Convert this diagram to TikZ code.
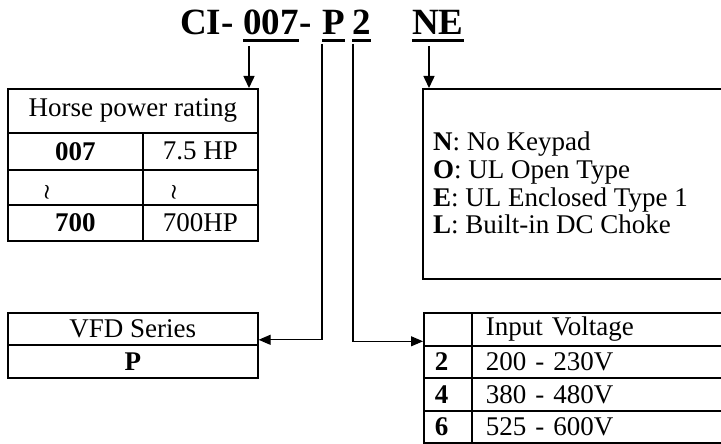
\documentclass[tikz,border=0pt]{standalone}
\usepackage{fontspec}
\setmainfont{Liberation Serif}
\usetikzlibrary{arrows.meta,positioning}
\definecolor{ink}{HTML}{000000}
\newcommand{\bodyfont}{\fontsize{27}{27.7}\selectfont}
\tikzset{
  cell/.style={draw=ink,line width=1.6pt,inner sep=0pt,anchor=north west,
               font=\bodyfont},
  ivnum/.style={cell,minimum height=33pt,text width=26pt,inner xsep=11pt,
                align=left,font=\bodyfont\bfseries},
  ivval/.style={cell,minimum height=33pt,text width=232pt,inner xsep=14pt,
                align=left},
  tag/.style={font=\fontsize{37}{40}\selectfont\bfseries,inner sep=0pt,
              anchor=base west},
  squig/.style={font=\fontsize{21}{22}\selectfont\boldmath,inner sep=0pt},
  uline/.style={line width=3pt},
  arrowdown/.style={-{Triangle[length=12pt,width=11pt]},line width=1.5pt},
  arrowlink/.style={-{Triangle[length=12pt,width=10pt]},line width=1.1pt},
}
\begin{document}
\begin{tikzpicture}[x=1pt,y=-1pt]
  \useasboundingbox (0,0) rectangle (721,444);
  % Model code
  \node[tag](tCI)at(180,35){CI-};
  \node[tag](t007)at(243,35){007};
  \node[tag](tdash)at(t007.base east){-};
  \node[tag](tP)at(322,35){P};
  \node[tag](t2)at(352,35){2};
  \node[tag](tNE)at(412,35){NE};
  \foreach \n in {t007,tP,t2,tNE}{
    \draw[uline]([yshift=-6pt]\n.base west)--([yshift=-6pt]\n.base east);}
  % Horse power table
  \node[cell,minimum width=250pt,minimum height=44pt](hpHead)at(7,88){Horse power rating};
  \node[cell,minimum width=135pt,minimum height=37pt](hpA)at(7,132){\bfseries 007};
  \node[cell,minimum width=115pt,minimum height=37pt](hpB)at(142,132){7.5 HP};
  \node[cell,minimum width=135pt,minimum height=35pt](hpC)at(7,169){};
  \node[cell,minimum width=115pt,minimum height=35pt](hpD)at(142,169){};
  \node[cell,minimum width=135pt,minimum height=36pt](hpE)at(7,204){\bfseries 700};
  \node[cell,minimum width=115pt,minimum height=36pt](hpF)at(142,204){700HP};
  \node[squig](sqA)at(47,192){$\wr$};
  \node[squig](sqB)at(174,192){$\wr$};
  % VFD series table
  \node[cell,minimum width=250pt,minimum height=32pt](vfdHead)at(7,312){VFD Series};
  \node[cell,minimum width=250pt,minimum height=33pt](vfdP)at(7,344){\bfseries P};
  % Option box
  \node[cell,minimum width=310pt,minimum height=190pt](neBox)at(422,88){};
  \node[font=\bodyfont,align=left,anchor=west,inner sep=0pt](neText)at(433,183){%
    \textbf{N}: No Keypad\\
    \textbf{O}: UL Open Type\\
    \textbf{E}: UL Enclosed Type 1\\
    \textbf{L}: Built-in DC Choke};
  % Input voltage table
  \node[ivnum](ivBlank)at(423,312){};
  \node[ivval](ivHead)at(471,312){Input Voltage};
  \node[ivnum,minimum height=32pt](ivTwo)at(423,345){2};
  \node[ivval,minimum height=32pt](ivTwoV)at(471,345){200 - 230V};
  \node[ivnum](ivFour)at(423,377){4};
  \node[ivval](ivFourV)at(471,377){380 - 480V};
  \node[ivnum,minimum height=32pt](ivSix)at(423,410){6};
  \node[ivval,minimum height=32pt](ivSixV)at(471,410){525 - 600V};
  % Connectors
  \coordinate(a007)at(249,46);
  \coordinate(aNE)at(429,46);
  \coordinate(aP)at(322,44);
  \coordinate(aTwo)at(353,44);
  \draw[arrowdown](a007)--(a007|-hpHead.north);
  \draw[arrowdown](aNE)--(aNE|-neBox.north);
  \draw[arrowlink](aP)|-([yshift=-11pt]vfdHead.east);
  \draw[arrowlink](aTwo)|-([yshift=-12pt]ivBlank.west);
\end{tikzpicture}
\end{document}
